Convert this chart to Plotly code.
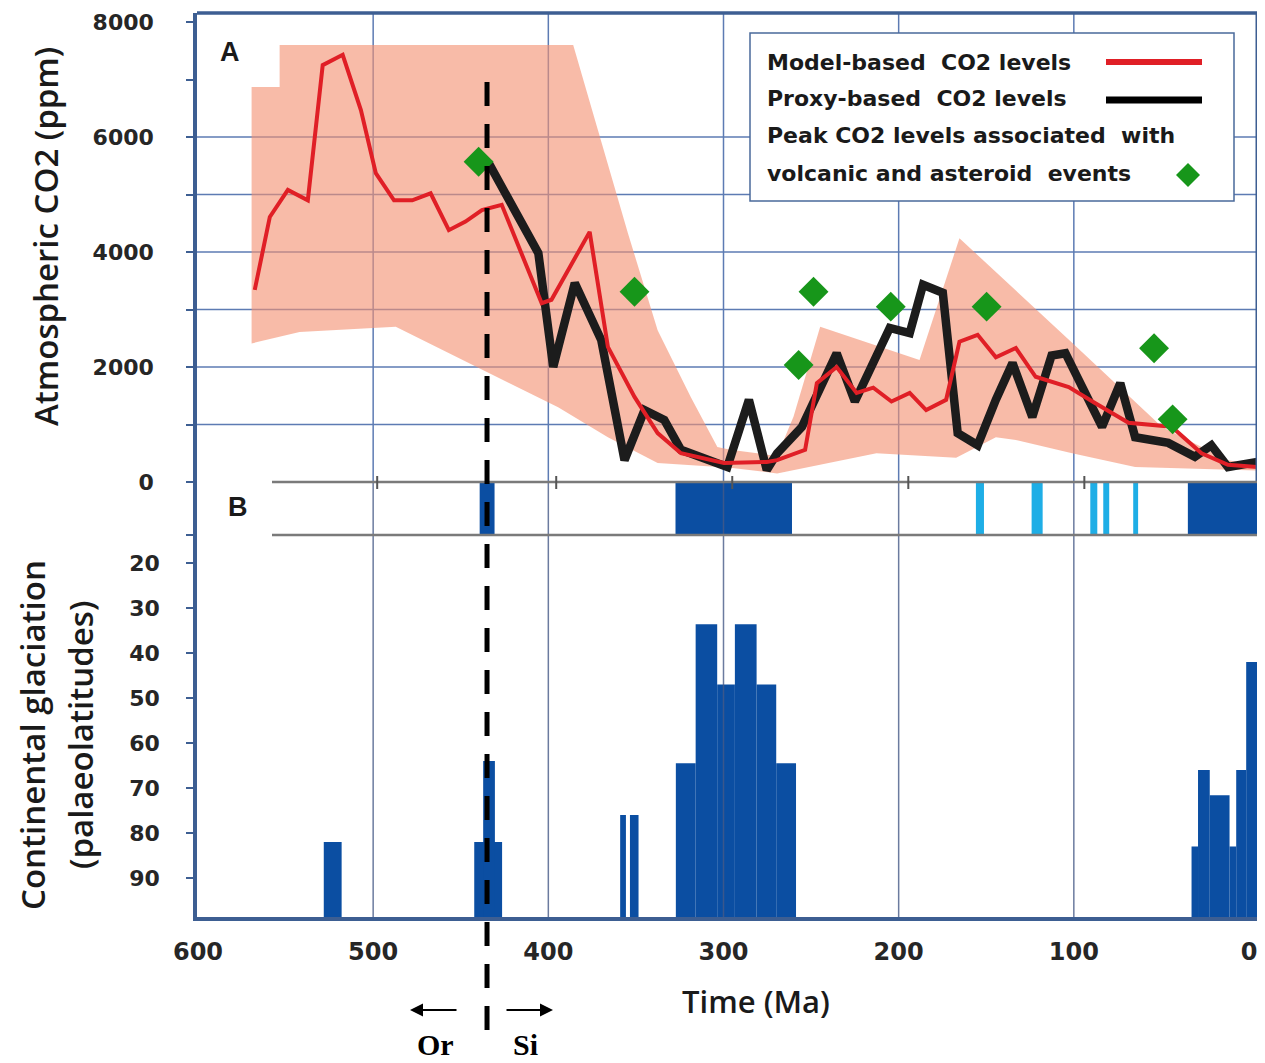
import plotly.graph_objects as go

# ---------------------------------------------------------------
# values (ages in Ma, CO2 in ppm)
# A: model-based CO2 (red line)
model_age = [567.6, 559.0, 548.7, 537.3, 528.8, 517.4, 507.0, 498.5, 488.1, 477.7,
             467.2, 456.8, 447.3, 437.9, 426.6, 415.2, 403.8, 398.2, 376.4, 366.0,
             350.8, 337.6, 324.3, 299.7, 275.3, 269.4, 253.4, 246.7, 235.4, 224.0,
             214.5, 204.1, 193.7, 184.3, 172.9, 165.3, 154.9, 144.5, 133.1, 121.8,
             102.9, 87.7, 68.8, 44.2, 27.1, 12.0, -4.8]
model_co2 = [3340, 4610, 5080, 4900, 7250, 7430, 6470, 5370, 4900, 4900,
             5020, 4380, 4530, 4730, 4820, 3980, 3110, 3170, 4350, 2350,
             1480, 850, 500, 330, 350, 380, 560, 1720, 2000, 1550,
             1640, 1400, 1550, 1250, 1430, 2440, 2560, 2170, 2330, 1830,
             1650, 1370, 1030, 960, 500, 300, 260]

# proxy-based CO2 (black line)
proxy_age = [434.1, 405.7, 397.2, 384.9, 369.8, 356.5, 345.1, 333.8, 324.3, 297.8,
             285.5, 275.3, 269.4, 255.2, 235.4, 225.0, 205.1, 193.7, 186.1, 174.8,
             166.3, 154.9, 144.5, 135.0, 123.7, 112.7, 104.8, 83.9, 73.5, 65.0,
             46.1, 30.9, 21.5, 12.0, -4.8]
proxy_co2 = [5550, 3980, 2000, 3460, 2470, 380, 1250, 1080, 560, 260,
             1430, 210, 500, 960, 2240, 1400, 2680, 2590, 3430, 3290,
             850, 640, 1430, 2070, 1130, 2200, 2240, 960, 1720, 780,
             680, 440, 640, 260, 350]

# model uncertainty envelope (upper edge, then lower edge, both old -> young)
env_hi_age = [569.4, 553.4, 553.4, 385.8, 371.7, 354.6, 337.6, 318.7, 303.5, 296.1,
              280.8, 269.4, 260.0, 244.8, 188.1, 165.3, 101.0, 49.8, 12.2, -4.8]
env_hi_co2 = [6870, 6870, 7600, 7600, 6120, 4330, 2640, 1480, 610, 560,
              500, 450, 1140, 2700, 2120, 4240, 2420, 960, 380, 300]
env_lo_age = [569.4, 542.0, 487.1, 394.4, 366.0, 337.6, 296.1, 269.4, 212.7, 167.2,
              144.5, 133.1, 101.0, 65.0, -4.8]
env_lo_co2 = [2410, 2610, 2700, 1300, 780, 330, 250, 150, 500, 420,
              780, 730, 500, 260, 200]

# peak CO2 with volcanic / asteroid events (green diamonds)
peak_age = [439.8, 350.8, 257.1, 248.6, 204.5, 149.8, 54.2, 43.6]
peak_co2 = [5570, 3310, 2035, 3310, 3050, 3050, 2325, 1090]

# B: glacial intervals (dark = major, light = minor)
ice_major_old = [439.2, 327.4, 34.9]
ice_major_young = [430.7, 260.9, -5.0]
ice_minor_old = [155.9, 124.1, 90.6, 83.2, 66.1]
ice_minor_young = [151.3, 117.8, 86.6, 79.8, 63.3]

# continental glaciation: age interval and lowest palaeolatitude reached
glac_old = [528.2, 442.3, 437.2, 359.0, 353.4, 327.2, 315.9, 303.6, 293.5, 281.1,
            269.9, 32.8, 29.1, 22.4, 11.1, 7.3, 1.6]
glac_young = [518.0, 426.4, 430.5, 355.7, 348.5, 315.9, 303.6, 293.5, 281.1, 269.9,
              258.6, 29.1, 22.4, 11.1, 7.3, 1.6, -5.0]
glac_lat = [82, 82, 64, 76, 76, 64.5, 33.6, 47, 33.6, 47,
            64.5, 83, 66, 71.6, 83, 66, 42]

# Ordovician / Silurian boundary
boundary_age = 435.0

age_ticks = [600, 500, 400, 300, 200, 100, 0]
grid_ages = [500, 400, 300, 200, 100]
co2_ticks = [0, 2000, 4000, 6000, 8000]
co2_grid = [1000, 2000, 3000, 4000, 5000, 6000]
lat_ticks = [20, 30, 40, 50, 60, 70, 80, 90]
b_tick_ages = [497.7, 395.5, 295.0, 194.5, 94.0]

legend_labels = ["Model-based\u00a0 CO2 levels", "Proxy-based\u00a0 CO2 levels",
                 "Peak CO2 levels associated\u00a0 with",
                 "volcanic and asteroid\u00a0 events"]

# ---------------------------------------------------------------
FRAME = '#3d5e92'
GRID = '#5d7bb3'
RED = '#e01f26'
BLACK = '#1c1c1c'
GREEN = '#17961a'
DARK_ICE = '#0b4ea2'
LIGHT_ICE = '#1eaee6'
TICKFONT = dict(family='DejaVu Sans', size=22, color='#262626', weight='bold')
TITLEFONT = dict(family='Open Sans', size=33, color='#1a1a1a', weight=600)

# the page body has an 8px margin; plot area in page pixels: x 197..1257, y 13..917
OFF = 8
X0, X1, Y0, Y1 = 197, 1257, 13, 917
W, H = 1265 - 2 * OFF, 1063 - OFF


def px(x):
    return (x - X0) / (X1 - X0)


def py(y):
    return (Y1 - y) / (Y1 - Y0)


d_top = py(482)
d_band = py(535)
lat_bottom = 98.67

fig = go.Figure()

# envelope
fig.add_trace(go.Scatter(x=env_hi_age + env_lo_age[::-1], y=env_hi_co2 + env_lo_co2[::-1],
                         fill='toself', fillcolor='rgba(243,146,114,0.62)',
                         line=dict(width=0), mode='lines', hoverinfo='skip', yaxis='y'))
fig.add_trace(go.Scatter(x=proxy_age, y=proxy_co2, mode='lines',
                         line=dict(color=BLACK, width=8.5), yaxis='y'))
fig.add_trace(go.Scatter(x=model_age, y=model_co2, mode='lines',
                         line=dict(color=RED, width=4), yaxis='y'))
fig.add_trace(go.Scatter(x=peak_age, y=peak_co2, mode='markers',
                         marker=dict(symbol='diamond', size=23, color=GREEN), yaxis='y'))

# B band
for old, young, col in [(ice_major_old, ice_major_young, DARK_ICE),
                        (ice_minor_old, ice_minor_young, LIGHT_ICE)]:
    fig.add_trace(go.Bar(x=[(o + y) / 2 for o, y in zip(old, young)], y=[1] * len(old),
                         width=[o - y for o, y in zip(old, young)], base=0,
                         marker=dict(color=col, line=dict(width=0)), yaxis='y2'))

# glaciation
fig.add_trace(go.Bar(x=[(o + y) / 2 for o, y in zip(glac_old, glac_young)],
                     y=[v - lat_bottom for v in glac_lat], base=lat_bottom,
                     width=[o - y for o, y in zip(glac_old, glac_young)],
                     marker=dict(color=DARK_ICE, line=dict(width=0)), yaxis='y3'))

shapes = []
# grid
for a in grid_ages:
    shapes.append(dict(type='line', xref='x', yref='paper', x0=a, x1=a, y0=d_top, y1=1,
                       line=dict(color=GRID, width=1.5), layer='below'))
    shapes.append(dict(type='line', xref='x', yref='paper', x0=a, x1=a, y0=0, y1=d_top,
                       line=dict(color='rgba(70,90,135,0.8)', width=1.5), layer='above'))
for v in co2_grid:
    shapes.append(dict(type='line', xref='paper', yref='y', x0=0, x1=1, y0=v, y1=v,
                       line=dict(color=GRID, width=1.5), layer='below'))
# panel A frame (top, right)
shapes.append(dict(type='line', xref='paper', yref='paper', x0=0, x1=1, y0=1, y1=1,
                   line=dict(color=FRAME, width=3.5)))
shapes.append(dict(type='line', xref='paper', yref='paper', x0=1, x1=1, y0=d_top, y1=1,
                   line=dict(color=FRAME, width=3)))
# B band rails and ticks
for yy in (d_top, d_band):
    shapes.append(dict(type='line', xref='paper', yref='paper', x0=px(272), x1=1, y0=yy, y1=yy,
                       line=dict(color='#7a7a7a', width=2.5)))
for a in b_tick_ages:
    shapes.append(dict(type='line', xref='x', yref='paper', x0=a, x1=a, y0=py(489), y1=py(476),
                       line=dict(color='#555', width=2)))
# Or/Si boundary
shapes.append(dict(type='line', xref='x', yref='paper', x0=boundary_age, x1=boundary_age,
                   y0=py(82), y1=py(1030), line=dict(color='black', width=5, dash='24px,18px')))

# legend box
shapes.append(dict(type='rect', xref='paper', yref='paper', x0=px(750), x1=px(1234),
                   y0=py(201), y1=py(33), fillcolor='white', line=dict(color='#4a6a9a', width=1.5),
                   layer='above'))
shapes.append(dict(type='line', xref='paper', yref='paper', x0=px(1106), x1=px(1202),
                   y0=py(62), y1=py(62), line=dict(color=RED, width=6)))
shapes.append(dict(type='line', xref='paper', yref='paper', x0=px(1106), x1=px(1202),
                   y0=py(100), y1=py(100), line=dict(color='black', width=7)))
cx, cy, h = 1188, 175, 12
shapes.append(dict(type='path', xref='paper', yref='paper', fillcolor=GREEN, line=dict(width=0),
                   path=f"M {px(cx)} {py(cy - h)} L {px(cx + h)} {py(cy)} L {px(cx)} {py(cy + h)} "
                        f"L {px(cx - h)} {py(cy)} Z"))


def label(txt, x, y, font, angle=0, xanchor='center'):
    return dict(text=txt, x=px(x), y=py(y), xref='paper', yref='paper', showarrow=False,
                xanchor=xanchor, yanchor='middle', textangle=angle, font=font)


ann = []
for txt, yy in zip(legend_labels, [62, 99, 136, 174]):
    ann.append(label(txt, 765, yy, dict(family='DejaVu Sans', size=22, color='#1a1a1a',
                                        weight='bold'), xanchor='left'))
letter_font = dict(family='Liberation Sans', size=27, color='#1a1a1a', weight='bold')
ann.append(label('A', 230, 52, letter_font))
ann.append(label('B', 238, 507, letter_font))
ann.append(label('Atmospheric CO2 (ppm)', 45, 237, TITLEFONT, -90))
ann.append(label('Continental glaciation', 32, 735, TITLEFONT, -90))
ann.append(label('(palaeolatitudes)', 80, 735, TITLEFONT, -90))
ann.append(label('Time (Ma)', 756, 1001, dict(TITLEFONT, size=31)))
serif = dict(family='Liberation Serif', size=30, color='black', weight='bold')
ann.append(label('Or', 435, 1044, serif))
ann.append(label('Si', 525, 1044, serif))
for head, tail in ((410, 48), (553, -48)):
    ann.append(dict(text='', x=px(head), y=py(1010), xref='paper', yref='paper', showarrow=True,
                    ax=tail, ay=0, axref='pixel', ayref='pixel', arrowhead=2, arrowsize=1.3,
                    arrowwidth=2, arrowcolor='black'))

axis_common = dict(showline=True, linecolor=FRAME, linewidth=3.5, zeroline=False, showgrid=False)

fig.update_layout(
    width=W, height=H, autosize=False,
    margin=dict(l=X0 - OFF, r=W - (X1 - OFF), t=Y0 - OFF, b=H - (Y1 - OFF)),
    paper_bgcolor='white', plot_bgcolor='white', showlegend=False, barmode='overlay',
    xaxis=dict(range=[600.57, -4.57], anchor='y3', tickvals=age_ticks, ticks='',
               tickfont=dict(TICKFONT, size=24), ticklabelstandoff=10,
               ticklabeloverflow='allow', **axis_common),
    yaxis=dict(domain=[d_top, 1], range=[0, 8157], tickvals=co2_ticks, ticks='outside',
               ticklen=7, tickwidth=2, tickcolor=FRAME, tickfont=TICKFONT, ticklabelstandoff=28,
               minor=dict(tickvals=[1000, 3000, 5000, 7000], ticks='outside', ticklen=7,
                          tickwidth=2, tickcolor=FRAME), **axis_common),
    yaxis2=dict(domain=[d_band, d_top], range=[0, 1], tickvals=[0, 1], ticks='outside',
                ticklen=7, tickwidth=2, tickcolor=FRAME, showticklabels=False, **axis_common),
    yaxis3=dict(domain=[0, d_band], range=[lat_bottom, 13.78], tickvals=lat_ticks,
                ticks='outside', ticklen=7, tickwidth=2, tickcolor=FRAME, tickfont=TICKFONT,
                ticklabelstandoff=22, **axis_common),
    shapes=shapes, annotations=ann,
)

fig.write_html("out.html")
